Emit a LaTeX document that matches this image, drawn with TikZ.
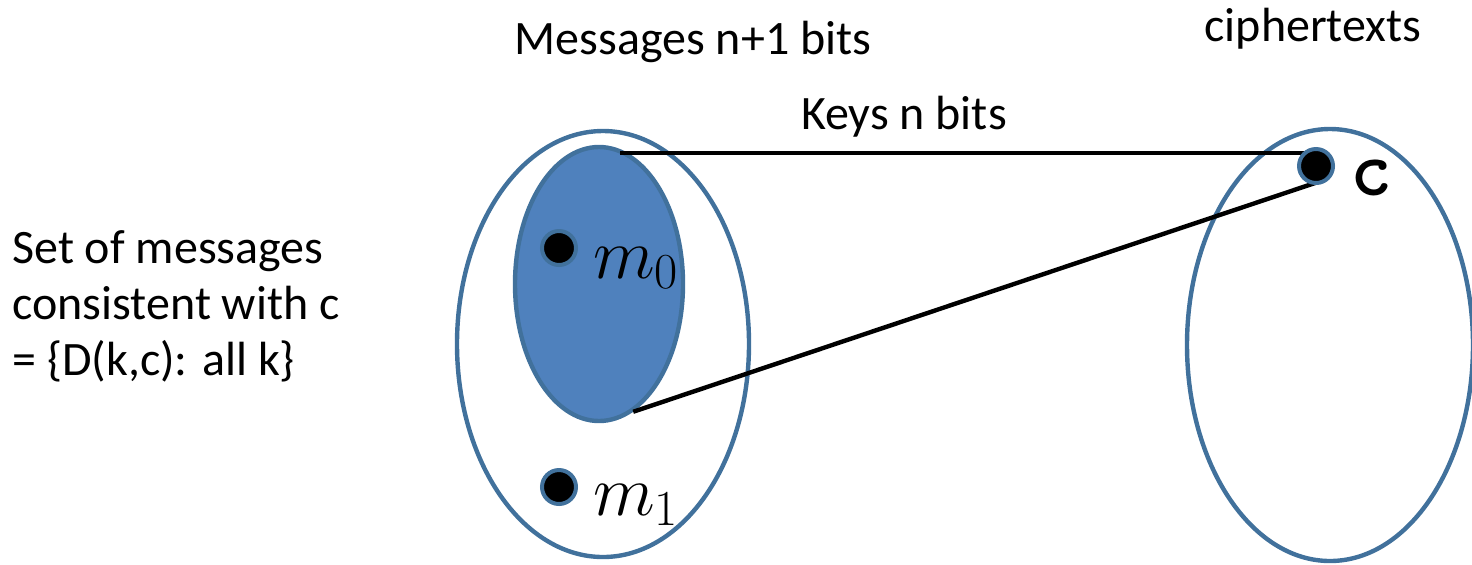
\documentclass[tikz,border=0pt]{standalone}
\usepackage{fix-cm}
\usepackage{fontspec}
\setmainfont{Carlito}
\usetikzlibrary{shapes.geometric,positioning}
\definecolor{setline}{RGB}{65,113,156}
\definecolor{setfill}{RGB}{79,129,189}

\begin{document}
\begin{tikzpicture}[x=0.5pt,y=-0.5pt,
  set/.style={ellipse,draw=setline,line width=2.2pt,inner sep=0pt},
  pt/.style={circle,fill=black,draw=setline,line width=2pt,minimum size=17pt,inner sep=0pt},
  lbl/.style={font=\fontsize{24}{28}\selectfont,inner sep=0pt},
  sym/.style={font=\fontsize{36}{40}\selectfont,inner sep=0pt},
  key/.style={line width=2.2pt,black}]
\useasboundingbox (0,0) rectangle (1472,564);
% the two sets
\node[set,minimum width=146pt,minimum height=213pt] (msgs) at (603,344) {};
\node[set,minimum width=143pt,minimum height=216pt] (ctxt) at (1330,345) {};
\node[set,fill=setfill,minimum width=84pt,minimum height=137pt] (cons) at (599,284) {};
% titles
\node[lbl] (msgtitle) at (693,42) {Messages n+1 bits};
\node[lbl] (ctxttitle) at (1313,29) {ciphertexts};
\node[lbl] (keytitle) at (904,117) {Keys n bits};
\node[lbl,anchor=west,align=left] (setnote) at (12,306)
  {Set of messages\\ consistent with c\\ = \{D(k,c): all k\}};
% the ciphertext and its preimages
\coordinate (ctop) at (1317,153);
\coordinate (cbot) at (1318,182);
\draw[key] (cons.81 |- ctop) -- (ctop);
\draw[key] (cons.-75) -- (cbot);
\node[pt] (cdot) at (1316,166) {};
\node[font=\fontsize{40}{44}\selectfont\ttfamily\bfseries,inner sep=0pt] (clbl) at (1371,178) {c};
\node[pt] (m0dot) at (559,248) {};
\node[sym] (m0lbl) at (636,268) {$m_0$};
\node[pt] (m1dot) at (559,487) {};
\node[sym] (m1lbl) at (636,505) {$m_1$};
\end{tikzpicture}
\end{document}
